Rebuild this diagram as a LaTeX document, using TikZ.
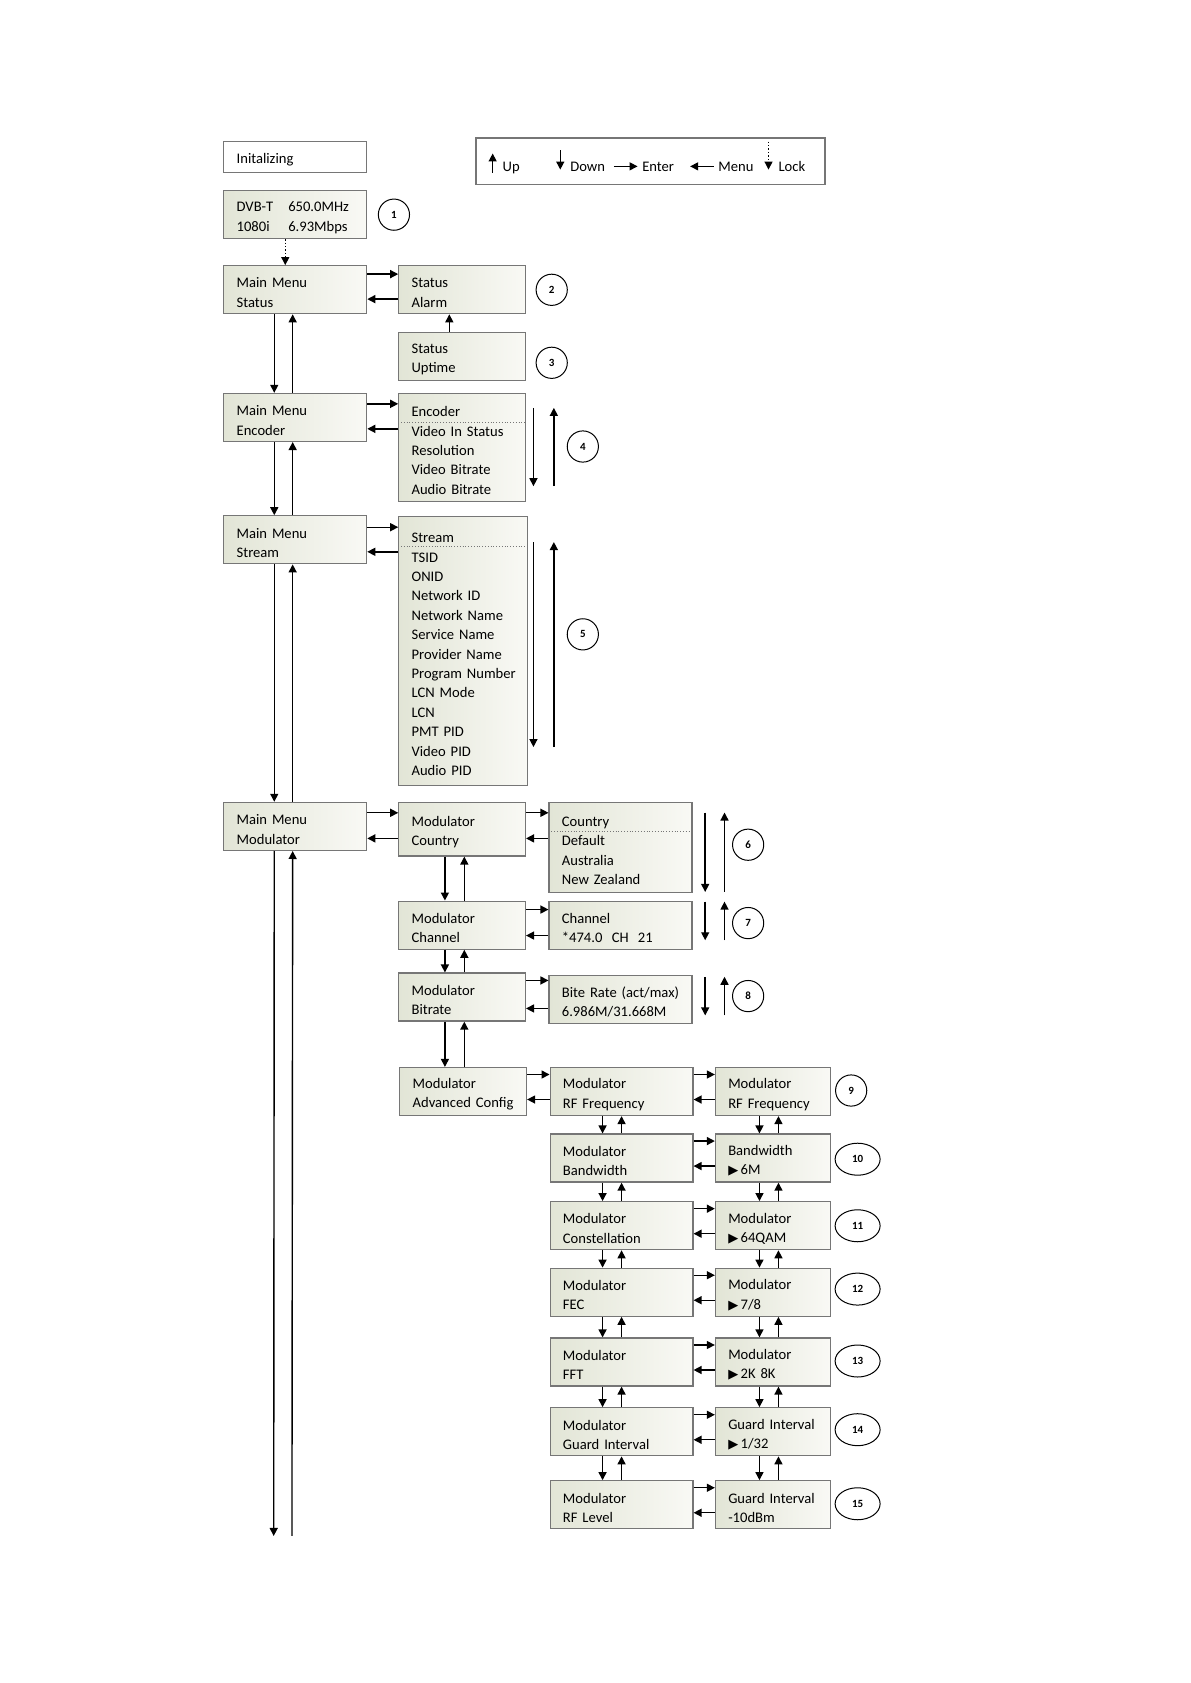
\documentclass[tikz,border=0pt]{standalone}
\usepackage{fontspec}
\setmainfont{Carlito}
\newfontfamily\symfont{DejaVu Sans}
\usetikzlibrary{arrows.meta,shapes.geometric}

\definecolor{lcdl}{RGB}{226,229,214}
\definecolor{lcdr}{RGB}{249,249,245}
\definecolor{lcdframe}{RGB}{118,118,118}

\newcommand\lcdfont{\fontsize{7.3}{9.7}\selectfont\hyphenpenalty=10000}
\newcommand\numfont{\fontsize{5.5}{6}\selectfont\bfseries}
\newcommand\tri{{\symfont\fontsize{6.5}{6.5}\selectfont ▶}\,}

\tikzset{
  lcd/.style={draw=lcdframe, line width=0.6pt, left color=lcdl, right color=lcdr,
    anchor=north west, align=left, inner xsep=6.4pt, inner ysep=0pt, font=\lcdfont,
    execute at begin node={\rule{0pt}{8pt}}},
  mainbox/.style={lcd, text width=58.6pt, minimum height=24pt},
  subbox/.style={lcd, text width=50.5pt, minimum height=24pt},
  valbox/.style={lcd, text width=58.6pt, minimum height=24pt},
  setbox/.style={lcd, text width=44.6pt, minimum height=24pt},
  arr/.style={-{Triangle[length=4pt,width=4pt]}, line width=0.7pt},
  sep/.style={densely dotted, line width=0.4pt, lcdframe},
  num/.style={draw, circle, minimum size=15.6pt, inner sep=0pt, line width=0.5pt, font=\numfont},
  numo/.style={draw, ellipse, minimum width=22.5pt, minimum height=16pt, inner sep=0pt, line width=0.5pt, font=\numfont},
  key/.style={anchor=base west, inner sep=0pt, font=\lcdfont}
}

\begin{document}
\begin{tikzpicture}[x=0.5366pt, y=-0.5366pt]
\useasboundingbox (0,0) rectangle (1109,1568);

% legend
\node[draw=lcdframe, line width=0.8pt, anchor=north west, inner sep=0pt,
  minimum width=174.4pt, minimum height=23.1pt] (legend) at (443,128) {};
\node[key] (kup) at (468,159.5) {Up};
\node[key] (kdown) at (531,159.5) {Down};
\node[key] (kenter) at (598,159.5) {Enter};
\node[key] (kmenu) at (669,159.5) {Menu};
\node[key] (klock) at (725,159.5) {Lock};
\coordinate (u1) at (459,161); \coordinate (u2) at (459,143);
\coordinate (d1) at (522,140); \coordinate (d2) at (522,158);
\coordinate (e1) at (572,155); \coordinate (e2) at (594,155);
\coordinate (m1) at (665,155); \coordinate (m2) at (643,155);
\coordinate (l1) at (716,132); \coordinate (l2) at (716,158);
\draw[arr] (u1) -- (u2);
\draw[arr] (d1) -- (d2);
\draw[arr] (e1) -- (e2);
\draw[arr] (m1) -- (m2);
\draw[arr, densely dotted, line width=0.5pt] (l1) -- (l2);

% left column
\node[lcd, fill=white, left color=white, right color=white, text width=58.6pt, minimum height=15.6pt] (init) at (208,131) {Initalizing};
\node[mainbox] (dvb) at (208,177) {\makebox[25.8pt][l]{DVB-T}650.0MHz\\\makebox[25.8pt][l]{1080i}6.93Mbps};
\node[mainbox] (mms) at (208,247) {Main Menu\\Status};
\node[mainbox] (mme) at (208,366) {Main Menu\\Encoder};
\node[mainbox] (mmst) at (208,480) {Main Menu\\Stream};
\node[mainbox] (mmm) at (208,747) {Main Menu\\Modulator};
\coordinate (endd) at (255,1431);
\coordinate (endu) at (272,1431);

% status and lists
\node[subbox] (alarm) at (371,247) {Status\\Alarm};
\node[subbox] (uptime) at (371,309) {Status\\Uptime};
\node[subbox, minimum height=54.2pt] (enc) at (371,366) {Encoder\\Video In Status\\Resolution\\Video Bitrate\\Audio Bitrate};
\node[subbox, text width=51.6pt, minimum height=134.2pt] (str) at (371,481) {Stream\\TSID\\ONID\\Network ID\\Network Name\\Service Name\\Provider Name\\\mbox{Program Number}\\LCN Mode\\LCN\\PMT PID\\Video PID\\Audio PID};
\draw[sep] ([yshift=-15pt]enc.north west) -- ([yshift=-15pt]enc.north east);
\draw[sep] ([yshift=-15.2pt]str.north west) -- ([yshift=-15.2pt]str.north east);

% modulator
\node[subbox, minimum height=26.8pt] (mcty) at (371,747) {Modulator\\Country};
\node[subbox] (mch) at (371,839) {Modulator\\Channel};
\node[subbox] (mbr) at (371,906) {Modulator\\Bitrate};
\node[subbox] (adv) at (372,994) {Modulator\\\mbox{Advanced Config}};
\node[valbox, minimum height=45.1pt] (cty) at (511,747) {Country\\Default\\Australia\\New Zealand};
\node[valbox] (ch) at (511,839) {Channel\\\makebox[25pt][l]{*474.0}\makebox[13pt][l]{CH}21};
\node[valbox] (br) at (511,908) {\mbox{Bite Rate (act/max)}\\6.986M/31.668M};
\draw[sep] ([yshift=-15pt]cty.north west) -- ([yshift=-15pt]cty.north east);

% advanced config
\node[valbox] (rf2) at (512,994) {Modulator\\RF Frequency};
\node[valbox] (bw2) at (512,1056) {Modulator\\Bandwidth};
\node[valbox] (con2) at (512,1119) {Modulator\\Constellation};
\node[valbox] (fec2) at (512,1181) {Modulator\\FEC};
\node[valbox] (fft2) at (512,1246) {Modulator\\FFT};
\node[valbox] (gi2) at (512,1311) {Modulator\\\mbox{Guard Interval}};
\node[valbox] (lvl2) at (512,1379) {Modulator\\RF Level};
\node[setbox] (rf3) at (666,994) {Modulator\\\mbox{RF Frequency}};
\node[setbox] (bw3) at (666,1056) {Bandwidth\\\tri 6M};
\node[setbox] (con3) at (666,1119) {Modulator\\\tri 64QAM};
\node[setbox] (fec3) at (666,1181) {Modulator\\\tri 7/8};
\node[setbox] (fft3) at (666,1246) {Modulator\\\tri 2K 8K};
\node[setbox] (gi3) at (666,1311) {\mbox{Guard Interval}\\\tri 1/32};
\node[setbox] (lvl3) at (666,1379) {\mbox{Guard Interval}\\-10dBm};

% numbers
\node[num] (n1) at (367,200) {1};
\node[num] (n2) at (514,270) {2};
\node[num] (n3) at (514,338) {3};
\node[num] (n4) at (543,416) {4};
\node[num] (n5) at (543,591) {5};
\node[num] (n6) at (697,787) {6};
\node[num] (n7) at (697,860) {7};
\node[num] (n8) at (697,928) {8};
\node[num] (n9) at (793,1016) {9};
\node[numo] (n10) at (799,1080) {10};
\node[numo] (n11) at (799,1142) {11};
\node[numo] (n12) at (799,1201) {12};
\node[numo] (n13) at (799,1268) {13};
\node[numo] (n14) at (799,1332) {14};
\node[numo] (n15) at (799,1401) {15};

% main menu up/down
\draw[arr, densely dotted, line width=0.5pt] ([xshift=-5pt]dvb.south) -- ([xshift=-5pt]dvb.south |- mms.north);
\draw[arr] ([xshift=-10.5pt]mms.south) -- ([xshift=-10.5pt]mms.south |- mme.north);
\draw[arr] ([xshift=-1.3pt]mms.south |- mme.north) -- ([xshift=-1.3pt]mms.south);
\draw[arr] ([xshift=-10.5pt]mme.south) -- ([xshift=-10.5pt]mme.south |- mmst.north);
\draw[arr] ([xshift=-1.3pt]mme.south |- mmst.north) -- ([xshift=-1.3pt]mme.south);
\draw[arr] ([xshift=-10.5pt]mmst.south) -- ([xshift=-10.5pt]mmst.south |- mmm.north);
\draw[arr] ([xshift=-1.3pt]mmst.south |- mmm.north) -- ([xshift=-1.3pt]mmst.south);
\draw[arr] ([xshift=-10.5pt]mmm.south) -- (endd);
\draw[arr] (endu) -- ([xshift=-1.3pt]mmm.south);
\draw[arr] ([xshift=-6.4pt]uptime.north) -- ([xshift=-6.4pt]alarm.south);

% enter / menu
\draw[arr] ([yshift=-4.5pt]mms.north east) -- ([yshift=-4.5pt]mms.north east -| alarm.west);
\draw[arr] ([yshift=-17pt]mms.north east -| alarm.west) -- ([yshift=-17pt]mms.north east);
\draw[arr] ([yshift=-5.5pt]mme.north east) -- ([yshift=-5.5pt]mme.north east -| enc.west);
\draw[arr] ([yshift=-18pt]mme.north east -| enc.west) -- ([yshift=-18pt]mme.north east);
\draw[arr] ([yshift=-6pt]mmst.north east) -- ([yshift=-6pt]mmst.north east -| str.west);
\draw[arr] ([yshift=-18.3pt]mmst.north east -| str.west) -- ([yshift=-18.3pt]mmst.north east);
\draw[arr] ([yshift=-5.5pt]mmm.north east) -- ([yshift=-5.5pt]mmm.north east -| mcty.west);
\draw[arr] ([yshift=-18.3pt]mmm.north east -| mcty.west) -- ([yshift=-18.3pt]mmm.north east);
\draw[arr] ([yshift=-5.5pt]mcty.north east) -- ([yshift=-5.5pt]mcty.north east -| cty.west);
\draw[arr] ([yshift=-18.3pt]mcty.north east -| cty.west) -- ([yshift=-18.3pt]mcty.north east);
\draw[arr] ([yshift=-4.5pt]mch.north east) -- ([yshift=-4.5pt]mch.north east -| ch.west);
\draw[arr] ([yshift=-17.5pt]mch.north east -| ch.west) -- ([yshift=-17.5pt]mch.north east);
\draw[arr] ([yshift=-4pt]mbr.north east) -- ([yshift=-4pt]mbr.north east -| br.west);
\draw[arr] ([yshift=-18pt]mbr.north east -| br.west) -- ([yshift=-18pt]mbr.north east);
\draw[arr] ([yshift=-3.8pt]adv.north east) -- ([yshift=-3.8pt]adv.north east -| rf2.west);
\draw[arr] ([yshift=-16.3pt]adv.north east -| rf2.west) -- ([yshift=-16.3pt]adv.north east);

% list scrolling
\coordinate (es1) at (497,380); \coordinate (es2) at (497,453);
\coordinate (eu1) at (516,453); \coordinate (eu2) at (516,380);
\coordinate (ss1) at (497,505); \coordinate (ss2) at (497,696);
\coordinate (su1) at (516,696); \coordinate (su2) at (516,505);
\coordinate (cs1) at (657,757); \coordinate (cs2) at (657,831);
\coordinate (cu1) at (675,831); \coordinate (cu2) at (675,757);
\coordinate (hs1) at (657,840); \coordinate (hs2) at (657,876);
\coordinate (hu1) at (675,876); \coordinate (hu2) at (675,840);
\coordinate (bs1) at (657,910); \coordinate (bs2) at (657,946);
\coordinate (bu1) at (675,946); \coordinate (bu2) at (675,910);
\draw[arr] (es1) -- (es2); \draw[arr] (eu1) -- (eu2);
\draw[arr] (ss1) -- (ss2); \draw[arr] (su1) -- (su2);
\draw[arr] (cs1) -- (cs2); \draw[arr] (cu1) -- (cu2);
\draw[arr] (hs1) -- (hs2); \draw[arr] (hu1) -- (hu2);
\draw[arr] (bs1) -- (bs2); \draw[arr] (bu1) -- (bu2);

% modulator column up/down
\draw[arr] ([xshift=-8.6pt]mcty.south) -- ([xshift=-8.6pt]mcty.south |- mch.north);
\draw[arr] ([xshift=1.1pt]mcty.south |- mch.north) -- ([xshift=1.1pt]mcty.south);
\draw[arr] ([xshift=-8.6pt]mch.south) -- ([xshift=-8.6pt]mch.south |- mbr.north);
\draw[arr] ([xshift=1.1pt]mch.south |- mbr.north) -- ([xshift=1.1pt]mch.south);
\draw[arr] ([xshift=-8.6pt]mbr.south) -- ([xshift=-8.6pt]mbr.south |- adv.north);
\draw[arr] ([xshift=1.1pt]mbr.south |- adv.north) -- ([xshift=1.1pt]mbr.south);

% advanced config, column 2
\draw[arr] ([xshift=-9.5pt]rf2.south) -- ([xshift=-9.5pt]rf2.south |- bw2.north);
\draw[arr] (rf2.south |- bw2.north) -- (rf2.south);
\draw[arr] ([xshift=-9.5pt]bw2.south) -- ([xshift=-9.5pt]bw2.south |- con2.north);
\draw[arr] (bw2.south |- con2.north) -- (bw2.south);
\draw[arr] ([xshift=-9.5pt]con2.south) -- ([xshift=-9.5pt]con2.south |- fec2.north);
\draw[arr] (con2.south |- fec2.north) -- (con2.south);
\draw[arr] ([xshift=-9.5pt]fec2.south) -- ([xshift=-9.5pt]fec2.south |- fft2.north);
\draw[arr] (fec2.south |- fft2.north) -- (fec2.south);
\draw[arr] ([xshift=-9.5pt]fft2.south) -- ([xshift=-9.5pt]fft2.south |- gi2.north);
\draw[arr] (fft2.south |- gi2.north) -- (fft2.south);
\draw[arr] ([xshift=-9.5pt]gi2.south) -- ([xshift=-9.5pt]gi2.south |- lvl2.north);
\draw[arr] (gi2.south |- lvl2.north) -- (gi2.south);

% advanced config, column 3
\draw[arr] ([xshift=-6.7pt]rf3.south) -- ([xshift=-6.7pt]rf3.south |- bw3.north);
\draw[arr] ([xshift=2.8pt]rf3.south |- bw3.north) -- ([xshift=2.8pt]rf3.south);
\draw[arr] ([xshift=-6.7pt]bw3.south) -- ([xshift=-6.7pt]bw3.south |- con3.north);
\draw[arr] ([xshift=2.8pt]bw3.south |- con3.north) -- ([xshift=2.8pt]bw3.south);
\draw[arr] ([xshift=-6.7pt]con3.south) -- ([xshift=-6.7pt]con3.south |- fec3.north);
\draw[arr] ([xshift=2.8pt]con3.south |- fec3.north) -- ([xshift=2.8pt]con3.south);
\draw[arr] ([xshift=-6.7pt]fec3.south) -- ([xshift=-6.7pt]fec3.south |- fft3.north);
\draw[arr] ([xshift=2.8pt]fec3.south |- fft3.north) -- ([xshift=2.8pt]fec3.south);
\draw[arr] ([xshift=-6.7pt]fft3.south) -- ([xshift=-6.7pt]fft3.south |- gi3.north);
\draw[arr] ([xshift=2.8pt]fft3.south |- gi3.north) -- ([xshift=2.8pt]fft3.south);
\draw[arr] ([xshift=-6.7pt]gi3.south) -- ([xshift=-6.7pt]gi3.south |- lvl3.north);
\draw[arr] ([xshift=2.8pt]gi3.south |- lvl3.north) -- ([xshift=2.8pt]gi3.south);

% column 2 to column 3
\draw[arr] ([yshift=-3.8pt]rf2.north east) -- ([yshift=-3.8pt]rf2.north east -| rf3.west);
\draw[arr] ([yshift=-16.3pt]rf2.north east -| rf3.west) -- ([yshift=-16.3pt]rf2.north east);
\draw[arr] ([yshift=-3.8pt]bw2.north east) -- ([yshift=-3.8pt]bw2.north east -| bw3.west);
\draw[arr] ([yshift=-16.3pt]bw2.north east -| bw3.west) -- ([yshift=-16.3pt]bw2.north east);
\draw[arr] ([yshift=-3.8pt]con2.north east) -- ([yshift=-3.8pt]con2.north east -| con3.west);
\draw[arr] ([yshift=-16.3pt]con2.north east -| con3.west) -- ([yshift=-16.3pt]con2.north east);
\draw[arr] ([yshift=-3.8pt]fec2.north east) -- ([yshift=-3.8pt]fec2.north east -| fec3.west);
\draw[arr] ([yshift=-16.3pt]fec2.north east -| fec3.west) -- ([yshift=-16.3pt]fec2.north east);
\draw[arr] ([yshift=-3.8pt]fft2.north east) -- ([yshift=-3.8pt]fft2.north east -| fft3.west);
\draw[arr] ([yshift=-16.3pt]fft2.north east -| fft3.west) -- ([yshift=-16.3pt]fft2.north east);
\draw[arr] ([yshift=-3.8pt]gi2.north east) -- ([yshift=-3.8pt]gi2.north east -| gi3.west);
\draw[arr] ([yshift=-16.3pt]gi2.north east -| gi3.west) -- ([yshift=-16.3pt]gi2.north east);
\draw[arr] ([yshift=-3.8pt]lvl2.north east) -- ([yshift=-3.8pt]lvl2.north east -| lvl3.west);
\draw[arr] ([yshift=-16.3pt]lvl2.north east -| lvl3.west) -- ([yshift=-16.3pt]lvl2.north east);
\end{tikzpicture}
\end{document}
